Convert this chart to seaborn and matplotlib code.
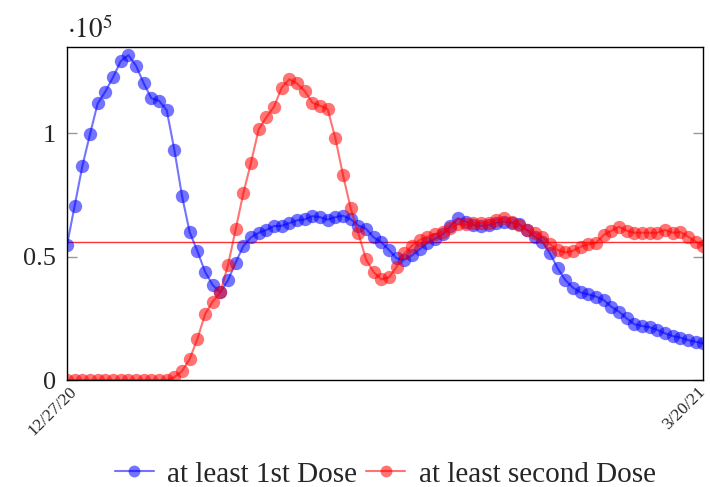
import numpy as np
import pandas as pd
import seaborn as sns
import matplotlib
matplotlib.use("Agg")
import matplotlib.pyplot as plt
from matplotlib.lines import Line2D
from matplotlib.transforms import ScaledTranslation

# Daily vaccinations, 12/27/20 through 3/20/21 (one value per day)
first_dose = [
    54700, 70700, 86700, 99700, 112100, 116900, 122700, 129200, 131700, 127400,
    120300, 114200, 113200, 109400, 93300, 74600, 59900, 52300, 43900, 38500,
    35500, 40500, 47600, 54300, 57800, 59700, 60800, 62400, 62500, 63600,
    64700, 65100, 66400, 66000, 65000, 66000, 66600, 65200, 62600, 61300,
    57800, 55900, 52700, 49300, 48800, 50500, 53000, 55600, 57200, 59000,
    62500, 65500, 64200, 62800, 62500, 62800, 63800, 64200, 63800, 63100,
    60800, 58100, 56100, 51300, 45300, 40500, 37400, 35500, 34700, 33800,
    32400, 29700, 27700, 25000, 22600, 21900, 21400, 20300, 18900, 17800,
    17200, 16200, 15500, 14900,
]
second_dose = [
    0, 0, 0, 0, 0, 0, 0, 0, 0, 0,
    0, 0, 0, 0, 1100, 3600, 8500, 16600, 26600, 31800,
    35500, 46600, 61100, 75700, 88100, 101600, 106500, 110800, 118500, 121900,
    120200, 117100, 112400, 111200, 109800, 98000, 83100, 69600, 59500, 48900,
    43700, 40800, 41600, 45900, 51300, 54400, 56700, 58100, 59100, 60100,
    61500, 63100, 63100, 63500, 63700, 63700, 64900, 65500, 64200, 62800,
    60800, 59500, 58100, 55100, 52700, 51700, 52400, 54000, 55000, 55600,
    58800, 60500, 62100, 60500, 59700, 59700, 59700, 59700, 60800, 59700,
    60000, 58100, 56100, 54400,
]
reference_level = 56000
series_names = ["at least 1st Dose", "at least second Dose"]
series_colors = ["blue", "red"]
date_labels = ["12/27/20", "3/20/21"]
y_ticks = [0, 50000, 100000]
y_tick_labels = ["0", "0.5", "1"]

days = np.arange(len(first_dose))
df = pd.DataFrame({
    "day": np.concatenate([days, days]),
    "count": first_dose + second_dose,
    "series": [series_names[0]] * len(days) + [series_names[1]] * len(days),
})

sns.set_theme(style="white")
plt.rcParams["font.family"] = ["Liberation Serif", "DejaVu Serif"]
plt.rcParams["mathtext.fontset"] = "stix"

fig = plt.figure(figsize=(7.1, 4.87), dpi=100)
ax = fig.add_axes([0.0944, 0.2197, 0.8962, 0.6844])

palette = dict(zip(series_names, series_colors))
sns.lineplot(data=df, x="day", y="count", hue="series", palette=palette,
             marker="o", markersize=9.6, markeredgewidth=0, linewidth=1.5,
             alpha=0.55, ax=ax, legend=False)

ax.axhline(reference_level, color="red", linewidth=1.0, alpha=0.8, zorder=1)

ax.set_xlim(0, len(days) - 1)
ax.set_ylim(0, 135100)
ax.set_xticks([0, len(days) - 1])
ax.set_xticklabels(date_labels, rotation=45, ha="right", va="top",
                   rotation_mode="anchor", fontsize=12.5)
ax.set_yticks(y_ticks)
ax.set_yticklabels(y_tick_labels, fontsize=19)
ax.set_xlabel("")
ax.set_ylabel("")

ax.tick_params(axis="y", direction="in", length=7, width=1, color="#999999",
               left=True, right=True, pad=8)
ax.tick_params(axis="x", direction="in", length=0, pad=3)
# keep the right-hand date inside the canvas
last = ax.get_xticklabels()[-1]
last.set_transform(last.get_transform() + ScaledTranslation(-6 / 100, 0, fig.dpi_scale_trans))
first = ax.get_xticklabels()[0]
first.set_transform(first.get_transform() + ScaledTranslation(2 / 100, 0, fig.dpi_scale_trans))

for spine in ax.spines.values():
    spine.set_color("black")
    spine.set_linewidth(1.0)

ax.text(0.0, 1.026, r"$\cdot10^{5}$", transform=ax.transAxes,
        ha="left", va="baseline", fontsize=19.5)

handles = [Line2D([], [], color=c, marker="o", markersize=8.5, markeredgewidth=0,
                  linewidth=1.5, alpha=0.55) for c in series_colors]
ax.legend(handles, series_names, loc="center", bbox_to_anchor=(0.5, -0.283),
          ncol=2, frameon=False, fontsize=21, handlelength=1.35,
          handletextpad=0.45, columnspacing=0.3)

fig.savefig("out.png", dpi=100)
